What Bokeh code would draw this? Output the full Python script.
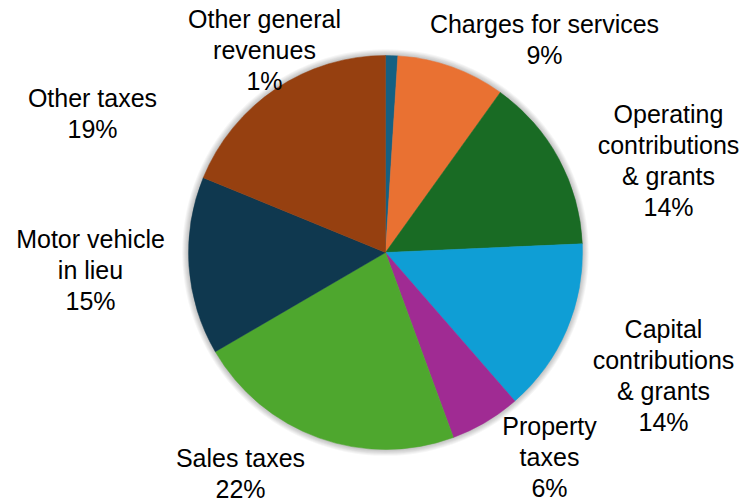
import math
from bokeh.plotting import figure
from bokeh.models import Range1d, ColumnDataSource
from bokeh.core.properties import value
from bokeh.embed import file_html
from bokeh.resources import INLINE

# ---- data ----
categories = ["Other general\nrevenues", "Charges for services", "Operating\ncontributions\n& grants",
              "Capital\ncontributions\n& grants", "Property\ntaxes", "Sales taxes",
              "Motor vehicle\nin lieu", "Other taxes"]
shares = [1.0, 8.9, 14.4, 14.3, 5.8, 22.2, 14.6, 18.8]
colors = ["#156082", "#E97132", "#196B24", "#0F9ED5", "#A02B93", "#4EA72E", "#0F384F", "#964010"]

# ---- layout: label centre x and first-line cap-centre y (page pixels), line spacing ----
label_pos = [(264, 18), (544, 23), (668, 113), (663, 328), (549, 425), (240, 457), (90, 238), (92, 97)]
CX, CY, R = 385, 252, 197
LINE_H = 31.0

W, H = 747, 501
p = figure(width=W, height=H, output_backend="svg", toolbar_location=None,
           x_range=Range1d(0, W), y_range=Range1d(0, H), min_border=0)
p.axis.visible = False
p.grid.visible = False
p.outline_line_color = None
p.background_fill_color = "white"
p.border_fill_color = "white"

def py(y):
    return H - y

# soft shadow
for k in range(1, 8):
    p.circle(x=[CX], y=[py(CY)], radius=R + k * 0.9, fill_color="black",
             fill_alpha=0.035, line_color=None)

total = sum(shares)
cum = 0.0
starts, ends = [], []
for s in shares:
    a0 = math.pi / 2 - 2 * math.pi * cum / total
    cum += s
    a1 = math.pi / 2 - 2 * math.pi * cum / total
    starts.append(a1)
    ends.append(a0)

src = ColumnDataSource(dict(x=[CX] * len(shares), y=[py(CY)] * len(shares),
                            start=starts, end=ends, color=colors))
p.wedge(x="x", y="y", radius=R, start_angle="start", end_angle="end",
        fill_color="color", line_color="color", line_width=0.5, source=src)

tx, ty, tt = [], [], []
for cat, s, (lx, ly) in zip(categories, shares, label_pos):
    lines = cat.split("\n") + [f"{round(s)}%"]
    for i, ln in enumerate(lines):
        tx.append(lx)
        ty.append(py(ly + i * LINE_H))
        tt.append(ln)

p.text(x=tx, y=ty, text=tt, text_align="center", text_baseline="middle",
       text_font=value("Liberation Sans"), text_font_size="25px", text_color="#000000")

open("out.html", "w").write(file_html(p, INLINE))
